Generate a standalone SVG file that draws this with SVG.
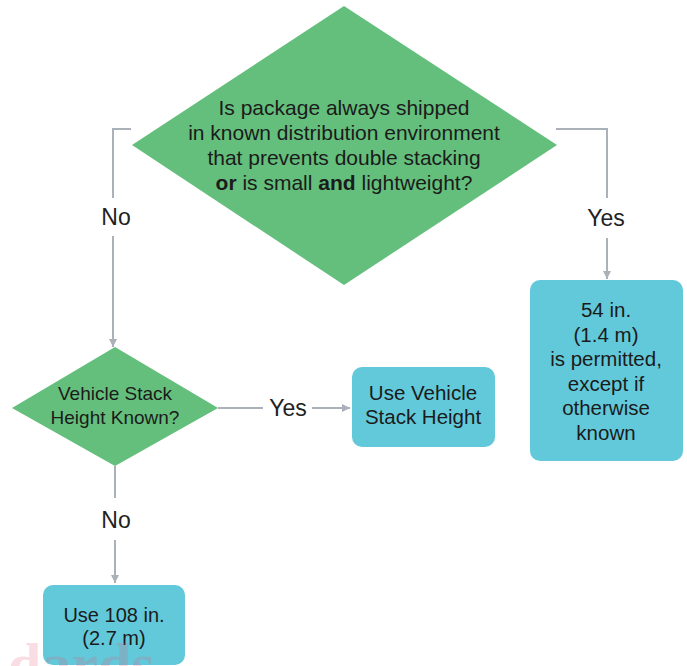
<svg xmlns="http://www.w3.org/2000/svg" width="687" height="666" viewBox="0 0 687 666">
<defs>
<style>
.dia{fill:#64bf7c}
.box{fill:#62c9da}
.t{font-family:"Liberation Sans",Arial,sans-serif;font-size:20.5px;fill:#1b1b1b;text-anchor:middle}
.q1{font-size:21px}
.q2{font-size:19px}
.s20{font-size:20px}
.lab{font-family:"Liberation Sans",Arial,sans-serif;font-size:23px;fill:#222;text-anchor:middle}
.c{fill:none;stroke:#aab1b9;stroke-width:2}
</style>
<marker id="ah" viewBox="0 0 10 10" refX="10" refY="5" markerWidth="8" markerHeight="8" markerUnits="userSpaceOnUse" orient="auto">
<path d="M0,0 L10,5 L0,10 z" fill="#aab1b9"/>
</marker>
</defs>
<rect width="687" height="666" fill="#fff"/>
<g id="connectors">
<polyline class="c" points="131,129 113,129 113,198"/>
<line class="c" x1="113" y1="236" x2="113" y2="347" marker-end="url(#ah)"/>
<polyline class="c" points="556,129 607,129 607,198"/>
<line class="c" x1="607" y1="238" x2="607" y2="279" marker-end="url(#ah)"/>
<line class="c" x1="218" y1="408" x2="263" y2="408"/>
<line class="c" x1="312" y1="408" x2="350" y2="408" marker-end="url(#ah)"/>
<line class="c" x1="115" y1="466" x2="115" y2="498"/>
<line class="c" x1="115" y1="540" x2="115" y2="583" marker-end="url(#ah)"/>
<text class="lab" x="116" y="225">No</text>
<text class="lab" x="606" y="226">Yes</text>
<text class="lab" x="288" y="416">Yes</text>
<text class="lab" x="116" y="528">No</text>
</g>
<g id="q1">
<polygon class="dia" points="344,6 557,145 344,285 132,145"/>
<text class="t q1" x="344" y="115">Is package always shipped</text>
<text class="t q1" x="344" y="140">in known distribution environment</text>
<text class="t q1" x="344" y="165">that prevents double stacking</text>
<text class="t q1" x="344" y="190"><tspan font-weight="bold">or</tspan> is small <tspan font-weight="bold">and</tspan> lightweight?</text>
</g>
<g id="q2">
<polygon class="dia" points="115,347 218,408 115,466 12,408"/>
<text class="t q2" x="115" y="400">Vehicle Stack</text>
<text class="t q2" x="115" y="424">Height Known?</text>
</g>
<g id="useVehicle">
<rect class="box" x="352" y="367" width="143" height="80" rx="10"/>
<text class="t" x="423" y="400">Use Vehicle</text>
<text class="t" x="423" y="424">Stack Height</text>
</g>
<g id="permit54">
<rect class="box" x="530" y="280" width="153" height="181" rx="10"/>
<text class="t" x="606" y="317">54 in.</text>
<text class="t" x="606" y="342">(1.4 m)</text>
<text class="t" x="606" y="366">is permitted,</text>
<text class="t" x="606" y="391">except if</text>
<text class="t" x="606" y="415">otherwise</text>
<text class="t" x="606" y="440">known</text>
</g>
<g id="use108">
<rect class="box" x="43" y="585" width="142" height="80" rx="10"/>
<text class="t s20" x="114" y="622">Use 108 in.</text>
<text class="t s20" x="114" y="645">(2.7 m)</text>
</g>
<text x="8" y="684" font-family="'Liberation Serif',serif" font-weight="bold" font-size="60" fill="#e8557a" opacity="0.2">dards</text>
</svg>
